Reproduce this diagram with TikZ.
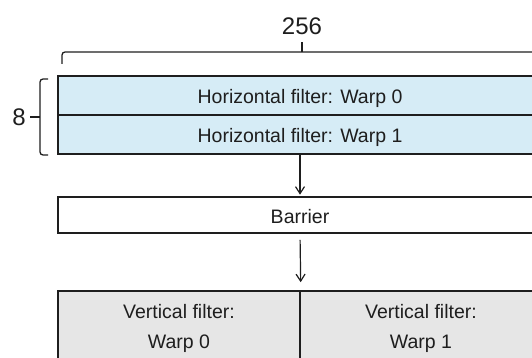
\documentclass[tikz,border=0pt]{standalone}
\usepackage{fontspec}
\setmainfont{Liberation Sans}
\usetikzlibrary{arrows.meta}
\definecolor{hblue}{RGB}{214,236,246}
\definecolor{vgray}{RGB}{230,230,230}
\definecolor{ink}{RGB}{30,30,30}
\tikzset{
  box/.style={draw=ink, line width=1.6pt, inner sep=0pt, text=ink,
    font=\fontsize{19.5}{30}\selectfont},
  onerow/.style={box, minimum width=484pt, text height=17pt, text depth=0pt},
  vbox/.style={box, fill=vgray, minimum width=242pt, minimum height=74pt, align=center},
  arr/.style={draw=ink, line width=1.2pt, -{Straight Barb[length=7pt,width=9pt,line width=1.2pt]}},
  bracepath/.style={draw=ink, line width=1.3pt, rounded corners=3pt},
  dimlabel/.style={text=ink, inner sep=0pt, font=\fontsize{24}{24}\selectfont}
}
\begin{document}
\begin{tikzpicture}[x=1pt,y=-1pt]
\useasboundingbox (0,0) rectangle (532,358);
\clip (0,0) rectangle (532,358);
% top brace (256)
\coordinate (tl) at (62,64);
\coordinate (tr) at (542,64);
\coordinate (tm) at (302,52);
\coordinate (tp) at (302,42);
\draw[bracepath] (tl) -- (62,52) -- (542,52) -- (tr);
\draw[draw=ink, line width=1.3pt] (tm) -- (tp);
\node[dimlabel, anchor=base] (n256) at (302,35) {256};
% left brace (8)
\coordinate (lt) at (48,79);
\coordinate (lb) at (48,155);
\coordinate (lm) at (40,117);
\coordinate (lp) at (30,117);
\draw[bracepath] (lt) -- (40,79) -- (40,155) -- (lb);
\draw[draw=ink, line width=1.3pt] (lm) -- (lp);
\node[dimlabel] (n8) at (19,117) {8};
% boxes
\node[onerow, fill=hblue, minimum height=39pt] (h0) at (300,95.5) {Horizontal filter: Warp 0};
\node[onerow, fill=hblue, minimum height=39pt] (h1) at (300,134.5) {Horizontal filter: Warp 1};
\node[onerow, fill=white, minimum height=36pt] (bar) at (300,215) {Barrier};
\node[vbox] (v0) at (179,328) {Vertical filter:\\Warp 0};
\node[vbox] (v1) at (421,328) {Vertical filter:\\Warp 1};
% arrows
\draw[arr, shorten >=1.5pt] (h1.south) -- (bar.north);
\draw[arr, shorten <=6pt, shorten >=8pt] (bar.south) -- (v0.north east);
\end{tikzpicture}
\end{document}
